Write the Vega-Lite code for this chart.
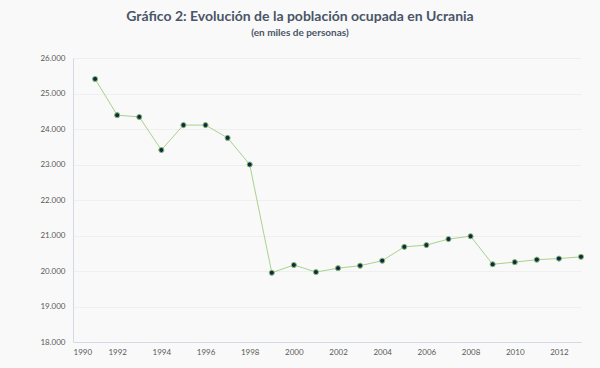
{
  "$schema": "https://vega.github.io/schema/vega-lite/v6.json",
  "width": 508,
  "height": 284,
  "autosize": "none",
  "padding": {"left": 73, "top": 58, "right": 19, "bottom": 26},
  "background": "#f9f9f9",
  "title": {
    "text": "Gráfico 2: Evolución de la población ocupada en Ucrania",
    "subtitle": "(en miles de personas)",
    "anchor": "middle",
    "dx": -27,
    "offset": 16,
    "font": "Lato",
    "fontSize": 14,
    "fontWeight": "bold",
    "color": "#4a5568",
    "subtitleFont": "Lato",
    "subtitleFontSize": 10,
    "subtitleFontWeight": "bold",
    "subtitleColor": "#4a5568",
    "subtitlePadding": 4
  },
  "data": {
    "values": [
      {"year": 1991, "value": 25410},
      {"year": 1992, "value": 24390},
      {"year": 1993, "value": 24340},
      {"year": 1994, "value": 23410},
      {"year": 1995, "value": 24110},
      {"year": 1996, "value": 24110},
      {"year": 1997, "value": 23750},
      {"year": 1998, "value": 23000},
      {"year": 1999, "value": 19950},
      {"year": 2000, "value": 20170},
      {"year": 2001, "value": 19970},
      {"year": 2002, "value": 20080},
      {"year": 2003, "value": 20150},
      {"year": 2004, "value": 20290},
      {"year": 2005, "value": 20680},
      {"year": 2006, "value": 20730},
      {"year": 2007, "value": 20900},
      {"year": 2008, "value": 20980},
      {"year": 2009, "value": 20190},
      {"year": 2010, "value": 20250},
      {"year": 2011, "value": 20320},
      {"year": 2012, "value": 20350},
      {"year": 2013, "value": 20400}
    ]
  },
  "encoding": {
    "x": {
      "field": "year",
      "type": "quantitative",
      "scale": {"domain": [1990, 2013], "nice": false, "zero": false},
      "axis": {
        "title": null,
        "values": [1990, 1992, 1994, 1996, 1998, 2000, 2002, 2004, 2006, 2008, 2010, 2012],
        "format": "d",
        "grid": false,
        "ticks": false,
        "domainColor": "#d5d9e3",
        "domainWidth": 1,
        "labelFont": "Lato",
        "labelFontSize": 8,
        "labelColor": "#595959",
        "labelPadding": 6
      }
    },
    "y": {
      "field": "value",
      "type": "quantitative",
      "scale": {"domain": [18000, 26000], "nice": false, "zero": false},
      "axis": {
        "title": null,
        "values": [18000, 19000, 20000, 21000, 22000, 23000, 24000, 25000, 26000],
        "labelExpr": "replace(format(datum.value, ',.0f'), ',', '.')",
        "grid": true,
        "gridColor": "#efefef",
        "gridWidth": 1,
        "ticks": false,
        "domainColor": "#d5d9e3",
        "domainWidth": 1,
        "labelFont": "Lato",
        "labelFontSize": 8,
        "labelColor": "#595959",
        "labelPadding": 8
      }
    }
  },
  "layer": [
    {"mark": {"type": "line", "color": "#a9d18e", "strokeWidth": 1}},
    {"mark": {"type": "point", "filled": true, "fill": "#0a2a55", "stroke": "#92c064", "strokeWidth": 1, "size": 26, "opacity": 1}}
  ],
  "config": {"view": {"stroke": null}}
}
